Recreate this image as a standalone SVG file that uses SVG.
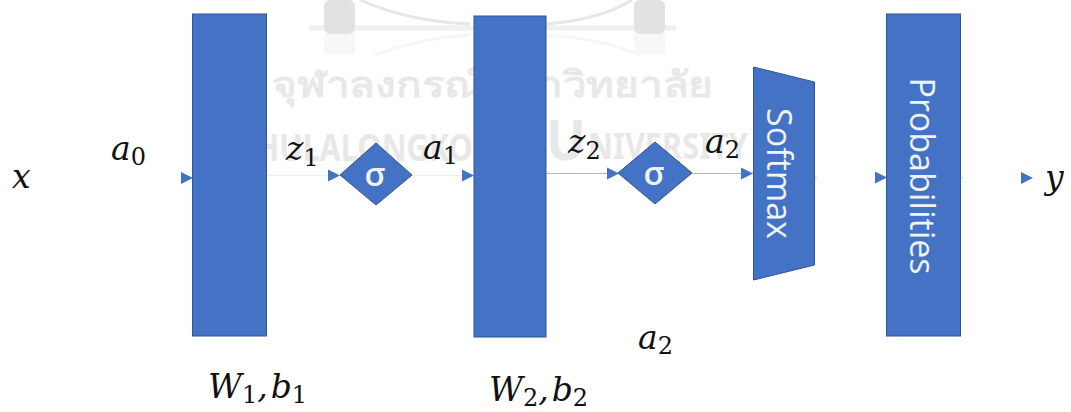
<svg xmlns="http://www.w3.org/2000/svg" width="1071" height="412" viewBox="0 0 1071 412">
<style>
.n{fill:#4472c4;stroke:#2f5597;stroke-width:1}
.c{fill:none;stroke-width:1}
.h{fill:#4472c4}
.m{font-family:"DejaVu Serif","Liberation Serif",serif;font-style:italic;font-size:33px;fill:#111}
.s{font-style:normal;font-size:24px}
.t{font-family:"Open Sans","Noto Sans",sans-serif;fill:#eef2fb;text-anchor:middle}
.w{font-family:"Noto Sans","DejaVu Sans",sans-serif;font-weight:700;fill:#e8e8e8}
</style>
<defs><path id="a" d="M0-6L12 0L0 6Z"/></defs>
<rect width="1071" height="412" fill="#fff"/>
<g id="watermark">
<path d="M309 28H676" stroke="#f0f0f0" stroke-width="5" fill="none"/>
<path d="M360 0Q410 22 470 24M545 24Q600 20 632 0" stroke="#e6e6e6" stroke-width="3" fill="none"/>
<path d="M375 55Q420 38 470 35M545 35Q600 38 640 55" stroke="#f6f6f6" stroke-width="3" fill="none"/>
<rect x="324" y="0" width="31" height="34" rx="6" fill="#e2e2e2"/>
<rect x="634" y="0" width="31" height="34" rx="6" fill="#e2e2e2"/>
<rect x="324" y="34" width="31" height="20" fill="#f7f7f7"/>
<rect x="634" y="34" width="31" height="20" fill="#f7f7f7"/>
<text class="w" x="272" y="97" font-size="36" textLength="441" lengthAdjust="spacingAndGlyphs">จุฬาลงกรณ์มหาวิทยาลัย</text>
<text class="w" x="236" y="161" font-size="38" textLength="282" lengthAdjust="spacingAndGlyphs">CHULALONGKORN</text>
<text class="w" x="546" y="160" font-size="56" textLength="40" lengthAdjust="spacingAndGlyphs">U</text>
<text class="w" x="588" y="159" font-size="36" textLength="160" lengthAdjust="spacingAndGlyphs">NIVERSITY</text>
</g>
<g id="connectors">
<path class="c" stroke="#e6f2fa" d="M267 175.500H330M412 175.500H463"/>
<path class="c" stroke="#9dbdee" d="M546 173.500H608M692 173.500H742"/>
<path class="c" stroke="#c9d9f2" d="M814 177.500H817M960 177.500H963"/>
<use href="#a" class="h" x="181" y="178"/>
<use href="#a" class="h" x="328" y="175.500"/>
<use href="#a" class="h" x="462" y="175.500"/>
<use href="#a" class="h" x="607" y="173.500"/>
<use href="#a" class="h" x="741" y="173.500"/>
<use href="#a" class="h" x="875" y="177.500"/>
<use href="#a" class="h" x="1021" y="178"/>
</g>
<g id="w1"><rect class="n" x="192.500" y="14" width="74" height="322"/></g>
<g id="sigma1"><polygon class="n" points="340,175 376,143 412,175 376,205"/><text class="t" x="375" y="186" font-size="33" font-weight="600">σ</text></g>
<g id="w2"><rect class="n" x="474" y="16" width="72" height="321"/></g>
<g id="sigma2"><polygon class="n" points="618,173 655,142 692,173 655,204"/><text class="t" x="654" y="185" font-size="33" font-weight="600">σ</text></g>
<g id="softmax"><polygon class="n" points="753.500,67 814.500,82 814.500,265 753.500,280"/><text class="t" transform="translate(767,173.500) rotate(90)" font-size="34">Softmax</text></g>
<g id="probabilities"><rect class="n" x="886.500" y="14" width="74" height="322"/><text class="t" transform="translate(910,176) rotate(90)" font-size="34">Probabilities</text></g>
<g id="labels">
<text class="m" x="12" y="188">x</text>
<text class="m" x="111" y="160">a<tspan class="s" dy="5">0</tspan></text>
<text class="m" x="286" y="160">z<tspan class="s" dy="6">1</tspan></text>
<text class="m" x="423" y="159">a<tspan class="s" dy="5">1</tspan></text>
<text class="m" x="568" y="153">z<tspan class="s" dy="6">2</tspan></text>
<text class="m" x="705" y="153">a<tspan class="s" dy="5">2</tspan></text>
<text class="m" x="1045" y="189">y</text>
<text class="m" x="638" y="349">a<tspan class="s" dy="5">2</tspan></text>
<text class="m" x="208" y="398">W<tspan class="s" dy="5">1</tspan><tspan dy="-5">,</tspan><tspan dx="3">b</tspan><tspan class="s" dy="5">1</tspan></text>
<text class="m" x="489" y="401">W<tspan class="s" dy="5">2</tspan><tspan dy="-5">,</tspan><tspan dx="3">b</tspan><tspan class="s" dy="5">2</tspan></text>
</g>
</svg>
